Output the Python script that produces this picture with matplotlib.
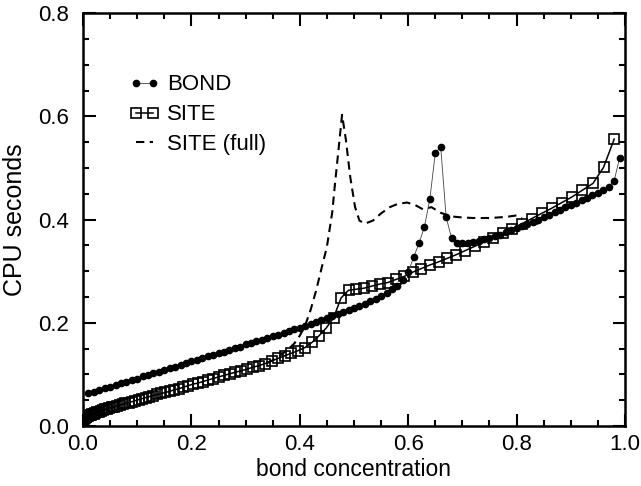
import numpy as np
import matplotlib.pyplot as plt
from matplotlib.ticker import MultipleLocator
from matplotlib.legend_handler import HandlerLine2D

plt.rcParams['font.family'] = ['Liberation Sans', 'DejaVu Sans']

# BOND: one point every 0.01 in bond concentration
bond_x = [0.01, 0.02, 0.03, 0.04, 0.05, 0.06, 0.07, 0.08, 0.09, 0.10,
          0.11, 0.12, 0.13, 0.14, 0.15, 0.16, 0.17, 0.18, 0.19, 0.20,
          0.21, 0.22, 0.23, 0.24, 0.25, 0.26, 0.27, 0.28, 0.29, 0.30,
          0.31, 0.32, 0.33, 0.34, 0.35, 0.36, 0.37, 0.38, 0.39, 0.40,
          0.41, 0.42, 0.43, 0.44, 0.45, 0.46, 0.47, 0.48, 0.49, 0.50,
          0.51, 0.52, 0.53, 0.54, 0.55, 0.56, 0.57, 0.58, 0.59, 0.60,
          0.61, 0.62, 0.63, 0.64, 0.65, 0.66, 0.67, 0.68, 0.69, 0.70,
          0.71, 0.72, 0.73, 0.74, 0.75, 0.76, 0.77, 0.78, 0.79, 0.80,
          0.81, 0.82, 0.83, 0.84, 0.85, 0.86, 0.87, 0.88, 0.89, 0.90,
          0.91, 0.92, 0.93, 0.94, 0.95, 0.96, 0.97, 0.98, 0.99]
bond_y = [0.063, 0.066, 0.070, 0.073, 0.076, 0.079, 0.083, 0.086, 0.089, 0.092,
          0.096, 0.099, 0.102, 0.105, 0.109, 0.112, 0.115, 0.118, 0.122, 0.125,
          0.128, 0.131, 0.135, 0.138, 0.141, 0.144, 0.148, 0.151, 0.154, 0.158,
          0.161, 0.164, 0.167, 0.171, 0.174, 0.177, 0.180, 0.184, 0.187, 0.190,
          0.193, 0.197, 0.201, 0.205, 0.209, 0.213, 0.217, 0.221, 0.225, 0.229,
          0.233, 0.237, 0.242, 0.247, 0.252, 0.258, 0.265, 0.272, 0.282, 0.298,
          0.327, 0.354, 0.386, 0.440, 0.529, 0.541, 0.405, 0.364, 0.354, 0.354,
          0.355, 0.357, 0.359, 0.362, 0.365, 0.368, 0.371, 0.375, 0.379, 0.383,
          0.387, 0.391, 0.395, 0.399, 0.404, 0.409, 0.414, 0.419, 0.424, 0.429,
          0.433, 0.437, 0.442, 0.447, 0.452, 0.457, 0.464, 0.475, 0.519]

# SITE: points bunch up near 0 and spread out towards 1
site_x = [0.0001, 0.0004, 0.0009, 0.0016, 0.0025, 0.0036, 0.0049, 0.0064, 0.0081, 0.0100,
          0.0121, 0.0144, 0.0169, 0.0196, 0.0225, 0.0256, 0.0289, 0.0324, 0.0361, 0.0400,
          0.0441, 0.0484, 0.0529, 0.0576, 0.0625, 0.0676, 0.0729, 0.0784, 0.0841, 0.0900,
          0.0961, 0.1024, 0.1089, 0.1156, 0.1225, 0.1296, 0.1369, 0.1444, 0.1521, 0.1600,
          0.1681, 0.1764, 0.1849, 0.1936, 0.2025, 0.2116, 0.2209, 0.2304, 0.2401, 0.2500,
          0.2601, 0.2704, 0.2809, 0.2916, 0.3025, 0.3136, 0.3249, 0.3364, 0.3481, 0.3600,
          0.3721, 0.3844, 0.3969, 0.4096, 0.4225, 0.4356, 0.4489, 0.4624, 0.4761, 0.4900,
          0.5041, 0.5184, 0.5329, 0.5476, 0.5625, 0.5776, 0.5929, 0.6084, 0.6241, 0.6400,
          0.6561, 0.6724, 0.6889, 0.7056, 0.7225, 0.7396, 0.7569, 0.7744, 0.7921, 0.8100,
          0.8281, 0.8464, 0.8649, 0.8836, 0.9025, 0.9216, 0.9409, 0.9604, 0.9801]
site_y = [0.010, 0.012, 0.013, 0.014, 0.015, 0.016, 0.017, 0.018, 0.019, 0.020,
          0.021, 0.022, 0.023, 0.024, 0.026, 0.027, 0.028, 0.029, 0.030, 0.032,
          0.033, 0.034, 0.036, 0.037, 0.039, 0.040, 0.042, 0.044, 0.045, 0.047,
          0.049, 0.051, 0.053, 0.055, 0.057, 0.059, 0.061, 0.063, 0.065, 0.067,
          0.070, 0.072, 0.075, 0.078, 0.081, 0.083, 0.086, 0.089, 0.092, 0.095,
          0.098, 0.101, 0.104, 0.107, 0.110, 0.114, 0.117, 0.121, 0.126, 0.131,
          0.136, 0.141, 0.146, 0.152, 0.162, 0.175, 0.190, 0.210, 0.248, 0.263,
          0.265, 0.267, 0.271, 0.275, 0.278, 0.284, 0.290, 0.298, 0.305, 0.312,
          0.318, 0.325, 0.332, 0.340, 0.348, 0.356, 0.365, 0.373, 0.382, 0.392,
          0.402, 0.412, 0.422, 0.433, 0.444, 0.457, 0.470, 0.501, 0.556]

# SITE (full), dashed; below 0.34 it sits under the SITE curve
full_x = [0.34, 0.36, 0.38, 0.39, 0.40, 0.41, 0.42, 0.43, 0.44, 0.45,
          0.46, 0.465, 0.472, 0.478, 0.485, 0.493, 0.502, 0.51, 0.52, 0.535,
          0.55, 0.566, 0.58, 0.598, 0.613, 0.627, 0.643, 0.66, 0.68, 0.70,
          0.72, 0.75, 0.78, 0.80, 0.81]
full_y = [0.122, 0.133, 0.150, 0.160, 0.175, 0.195, 0.225, 0.262, 0.305, 0.347,
          0.415, 0.470, 0.541, 0.603, 0.555, 0.483, 0.424, 0.398, 0.392, 0.398,
          0.412, 0.424, 0.430, 0.433, 0.428, 0.420, 0.424, 0.413, 0.406, 0.404,
          0.403, 0.403, 0.405, 0.408, 0.402]

fig = plt.figure(figsize=(6.41, 4.86), dpi=100)
ax = fig.add_axes([0.1295, 0.1235, 0.8455, 0.8495])

ax.plot(full_x, full_y, color='black', linestyle=(0, (4, 2.6)), linewidth=1.5,
        label='SITE (full)', zorder=2)
ax.plot(site_x, site_y, color='black', linewidth=1.1, marker='s', markersize=6.5,
        markerfacecolor='none', markeredgewidth=1.2, label='SITE', zorder=3)
ax.plot(bond_x, bond_y, color='#444444', linewidth=0.6, marker='o', markersize=4.5,
        markerfacecolor='black', markeredgecolor='black', label='BOND', zorder=4)

ax.set_xlim(0, 1.0)
ax.set_ylim(0, 0.8)
ax.xaxis.set_major_locator(MultipleLocator(0.2))
ax.xaxis.set_minor_locator(MultipleLocator(0.05))
ax.yaxis.set_major_locator(MultipleLocator(0.2))
ax.yaxis.set_minor_locator(MultipleLocator(0.05))
ax.xaxis.set_major_formatter(plt.FormatStrFormatter('%.1f'))
ax.yaxis.set_major_formatter(plt.FormatStrFormatter('%.1f'))
ax.tick_params(which='both', direction='in', top=True, right=True, labelsize=16, width=1.5)
ax.tick_params(which='major', length=9)
ax.tick_params(axis='x', which='major', pad=6)
ax.tick_params(axis='y', which='major', pad=10)
ax.tick_params(which='minor', length=4.5)
for s in ax.spines.values():
    s.set_linewidth(1.8)

ax.set_xlabel('bond concentration', fontsize=16.5, labelpad=2)
ax.set_ylabel('CPU seconds', fontsize=18, labelpad=8)

handles, labels = ax.get_legend_handles_labels()
order = [2, 1, 0]
ax.legend([handles[i] for i in order], [labels[i] for i in order],
          loc='upper left', bbox_to_anchor=(0.0685, 0.873), frameon=False,
          fontsize=16, numpoints=2, handlelength=1.37, handletextpad=0.33,
          labelspacing=0.4, borderaxespad=0,
          handler_map={h: HandlerLine2D(marker_pad=0.3) for h in handles})

fig.savefig('out.png', dpi=100)
